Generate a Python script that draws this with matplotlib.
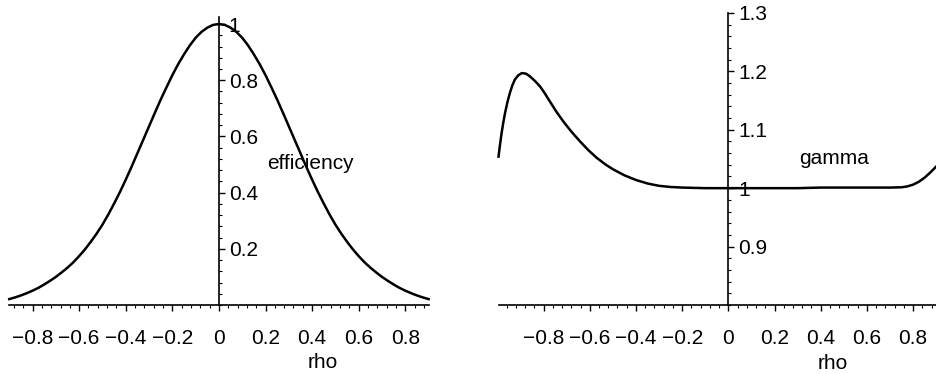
import matplotlib
matplotlib.use("Agg")
import matplotlib.pyplot as plt
from matplotlib.ticker import MultipleLocator, FixedLocator

plt.rcParams['font.family'] = ['Liberation Sans', 'DejaVu Sans']
plt.rcParams['font.size'] = 15

# efficiency vs rho
rho_eff = [-0.900, -0.875, -0.850, -0.825, -0.800, -0.775, -0.750, -0.725, -0.700, -0.675,
           -0.650, -0.625, -0.600, -0.575, -0.550, -0.525, -0.500, -0.475, -0.450, -0.425,
           -0.400, -0.375, -0.350, -0.325, -0.300, -0.275, -0.250, -0.225, -0.200, -0.175,
           -0.150, -0.125, -0.100, -0.075, -0.050, -0.025, 0.000,
           0.025, 0.050, 0.075, 0.100, 0.125, 0.150, 0.175, 0.200, 0.225, 0.250,
           0.275, 0.300, 0.325, 0.350, 0.375, 0.400, 0.425, 0.450, 0.475, 0.500,
           0.525, 0.550, 0.575, 0.600, 0.625, 0.650, 0.675, 0.700, 0.725, 0.750,
           0.775, 0.800, 0.825, 0.850, 0.875, 0.900]
efficiency = [0.021, 0.027, 0.034, 0.042, 0.051, 0.061, 0.073, 0.086, 0.100, 0.116,
              0.133, 0.152, 0.174, 0.198, 0.225, 0.254, 0.286, 0.322, 0.361, 0.402,
              0.446, 0.492, 0.540, 0.588, 0.636, 0.684, 0.731, 0.775, 0.818, 0.857,
              0.892, 0.924, 0.951, 0.972, 0.987, 0.997, 1.000,
              0.997, 0.987, 0.972, 0.951, 0.924, 0.892, 0.857, 0.818, 0.775, 0.731,
              0.684, 0.636, 0.588, 0.540, 0.492, 0.446, 0.402, 0.361, 0.322, 0.286,
              0.254, 0.225, 0.198, 0.174, 0.152, 0.133, 0.116, 0.100, 0.086, 0.073,
              0.061, 0.051, 0.042, 0.034, 0.027, 0.021]

# gamma vs rho
rho_gam = [-0.995, -0.988, -0.981, -0.974, -0.967, -0.956, -0.945, -0.935, -0.924, -0.910,
           -0.894, -0.876, -0.858, -0.836, -0.815, -0.794, -0.772, -0.743, -0.714, -0.680,
           -0.642, -0.606, -0.570, -0.530, -0.498, -0.450, -0.400, -0.350, -0.300, -0.250,
           -0.200, -0.100, 0.000, 0.100, 0.200, 0.300, 0.400, 0.500, 0.600, 0.700,
           0.750, 0.775, 0.800, 0.825, 0.850, 0.875, 0.900]
gamma = [1.054, 1.076, 1.096, 1.113, 1.128, 1.148, 1.164, 1.176, 1.186, 1.193,
         1.197, 1.196, 1.191, 1.183, 1.174, 1.162, 1.148, 1.130, 1.114, 1.097,
         1.080, 1.065, 1.052, 1.040, 1.032, 1.022, 1.014, 1.008, 1.004, 1.002,
         1.001, 1.000, 1.000, 1.000, 1.000, 1.000, 1.001, 1.001, 1.001, 1.001,
         1.0015, 1.003, 1.006, 1.011, 1.018, 1.027, 1.037]

fig = plt.figure(figsize=(9.36, 3.74), dpi=100)
ax1 = fig.add_axes([0.0099, 0.1845, 0.448, 0.770])
ax2 = fig.add_axes([0.5326, 0.1845, 0.4676, 0.781])


def maple_axes(ax, xlim, ylim, yticks, ymin_step):
    ax.set_xlim(*xlim)
    ax.set_ylim(*ylim)
    ax.spines['left'].set_visible(False)
    ax.spines['top'].set_visible(False)
    ax.spines['right'].set_position(('data', 0))
    ax.spines['bottom'].set_position(('data', ylim[0]))
    for s in ('right', 'bottom'):
        ax.spines[s].set_linewidth(1.2)
    ax.yaxis.set_ticks_position('right')
    ax.xaxis.set_ticks_position('bottom')
    ax.xaxis.set_major_locator(FixedLocator([-0.8, -0.6, -0.4, -0.2, 0, 0.2, 0.4, 0.6, 0.8]))
    ax.xaxis.set_minor_locator(MultipleLocator(0.04))
    ax.set_xticklabels(['\u22120.8', '\u22120.6', '\u22120.4', '\u22120.2', '0',
                        '0.2', '0.4', '0.6', '0.8'])
    ax.yaxis.set_major_locator(FixedLocator(yticks))
    ax.yaxis.set_minor_locator(MultipleLocator(ymin_step))
    ax.set_yticklabels([('%g' % t) for t in yticks])
    ax.tick_params(axis='x', which='major', direction='out', length=4, width=1, pad=13)
    ax.tick_params(axis='x', which='minor', direction='out', length=2, width=0.8)
    ax.tick_params(axis='y', which='major', direction='out', length=4, width=1, pad=3)
    ax.tick_params(axis='y', which='minor', direction='out', length=2, width=0.8)
    ax.patch.set_visible(False)


maple_axes(ax1, (-0.9, 0.9), (0, 1.025), [0.2, 0.4, 0.6, 0.8, 1], 0.04)
ax1.plot(rho_eff, efficiency, color='black', lw=1.8, clip_on=False)
ax1.text(0.206, 0.505, 'efficiency', ha='left', va='center')
ax1.text(0.446, -0.198, 'rho', ha='center', va='center', transform=ax1.get_xaxis_transform())

maple_axes(ax2, (-0.995, 0.9), (0.8, 1.3), [0.9, 1.0, 1.1, 1.2, 1.3], 0.02)
ax2.plot(rho_gam, gamma, color='black', lw=1.8, clip_on=False)
ax2.text(0.307, 1.05, 'gamma', ha='left', va='center')
ax2.text(0.453, -0.199, 'rho', ha='center', va='center', transform=ax2.get_xaxis_transform())

fig.savefig('out.png', dpi=100)
